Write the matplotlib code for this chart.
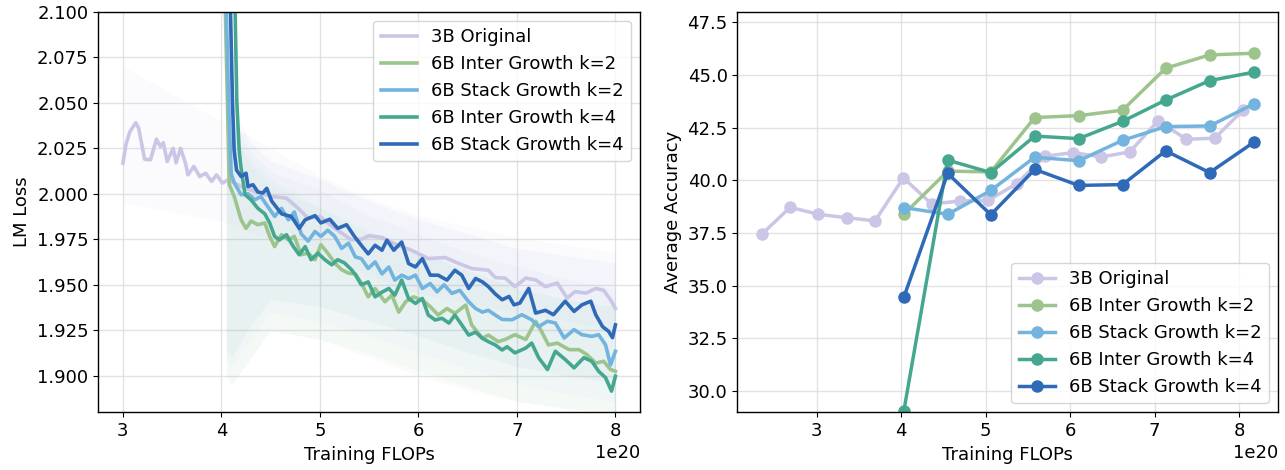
import numpy as np
import matplotlib
matplotlib.use("Agg")
import matplotlib.pyplot as plt

plt.rcParams['font.family'] = ['DejaVu Sans']
plt.rcParams['font.size'] = 13

SCALE = 1e20
labels = ['3B Original', '6B Inter Growth k=2', '6B Stack Growth k=2',
          '6B Inter Growth k=4', '6B Stack Growth k=4']
colors = ['#cbc5e6', '#9cc48c', '#73b4de', '#45a88e', '#2f6ab8']

# ---- left panel: smoothed LM loss, FLOPs in 1e20 ----
loss_3b_x = [3.00, 3.03, 3.07, 3.13, 3.16, 3.22, 3.28, 3.34, 3.38, 3.41, 3.45, 3.51,
             3.54, 3.585, 3.635, 3.66, 3.72, 3.78, 3.84, 3.90, 3.95, 4.01, 4.07, 4.20,
             4.35, 4.52, 4.66, 4.78, 4.88, 5.00, 5.15, 5.32, 5.42, 5.50, 5.63, 5.78,
             5.93, 6.10, 6.27, 6.41, 6.54, 6.71, 6.78, 6.88, 6.98, 7.09, 7.19, 7.29,
             7.41, 7.51, 7.59, 7.70, 7.80, 7.88, 7.95, 8.00]
loss_3b_y = [2.0168, 2.027, 2.034, 2.039, 2.036, 2.019, 2.0187, 2.030, 2.026, 2.028, 2.0177, 2.025,
             2.017, 2.025, 2.0168, 2.0104, 2.015, 2.0095, 2.0113, 2.0068, 2.0104, 2.0059, 2.0077, 2.004,
             2.001, 1.9985, 1.9976, 1.992, 1.9866, 1.9876, 1.981, 1.9747, 1.975, 1.977, 1.976, 1.972,
             1.969, 1.9644, 1.965, 1.9617, 1.959, 1.958, 1.954, 1.9537, 1.949, 1.9537, 1.9527, 1.949,
             1.951, 1.9427, 1.9463, 1.9454, 1.948, 1.947, 1.9418, 1.937]

loss_i2_x = [4.035, 4.04, 4.065, 4.08, 4.13, 4.20, 4.25, 4.30, 4.37, 4.44, 4.49, 4.54,
             4.61, 4.68, 4.74, 4.81, 4.88, 4.95, 5.01, 5.08, 5.15, 5.22, 5.29, 5.36,
             5.42, 5.49, 5.56, 5.66, 5.73, 5.80, 5.87, 5.95, 6.04, 6.12, 6.20, 6.29,
             6.37, 6.48, 6.54, 6.65, 6.71, 6.81, 6.88, 6.98, 7.09, 7.19, 7.24, 7.32,
             7.41, 7.53, 7.63, 7.71, 7.80, 7.88, 7.95, 8.00]
loss_i2_y = [2.30, 2.10, 2.04, 2.005, 1.9985, 1.9857, 1.981, 1.985, 1.983, 1.984, 1.9766, 1.971,
             1.9775, 1.9747, 1.9766, 1.9665, 1.9674, 1.9638, 1.972, 1.9674, 1.962, 1.9583, 1.9564, 1.956,
             1.951, 1.9434, 1.948, 1.9407, 1.9443, 1.935, 1.9407, 1.9434, 1.9416, 1.938, 1.9334, 1.937,
             1.9343, 1.9389, 1.928, 1.9206, 1.9224, 1.9188, 1.920, 1.9226, 1.920, 1.930, 1.9254, 1.917,
             1.918, 1.9144, 1.9144, 1.9117, 1.907, 1.908, 1.9035, 1.9025]

loss_s2_x = [4.045, 4.05, 4.078, 4.10, 4.13, 4.20, 4.27, 4.34, 4.40, 4.47, 4.54, 4.61,
             4.68, 4.74, 4.81, 4.88, 4.95, 5.01, 5.08, 5.15, 5.22, 5.29, 5.36, 5.42,
             5.49, 5.56, 5.63, 5.70, 5.76, 5.83, 5.90, 5.97, 6.04, 6.12, 6.19, 6.26,
             6.34, 6.42, 6.51, 6.58, 6.65, 6.71, 6.78, 6.85, 6.95, 7.05, 7.15, 7.22,
             7.31, 7.39, 7.48, 7.58, 7.66, 7.76, 7.83, 7.90, 7.95, 8.00]
loss_s2_y = [2.30, 2.10, 2.042, 2.011, 2.006, 1.9995, 2.000, 1.9967, 1.9985, 1.993, 1.9876, 1.992,
             1.9857, 1.990, 1.978, 1.974, 1.9793, 1.9766, 1.980, 1.9766, 1.970, 1.9729, 1.9653, 1.9644,
             1.959, 1.9626, 1.956, 1.9598, 1.9526, 1.9553, 1.9535, 1.9553, 1.948, 1.9507, 1.9462, 1.950,
             1.9453, 1.947, 1.9407, 1.937, 1.935, 1.936, 1.9334, 1.9310, 1.9308, 1.9336, 1.9308, 1.927,
             1.930, 1.929, 1.9208, 1.9254, 1.9226, 1.9217, 1.9226, 1.917, 1.906, 1.9135]

loss_i4_x = [4.135, 4.139, 4.156, 4.18, 4.197, 4.24, 4.30, 4.37, 4.44, 4.49, 4.54, 4.59,
             4.66, 4.73, 4.79, 4.85, 4.91, 4.98, 5.05, 5.12, 5.18, 5.25, 5.32, 5.36,
             5.42, 5.49, 5.56, 5.63, 5.70, 5.76, 5.83, 5.90, 5.97, 6.04, 6.10, 6.17,
             6.24, 6.31, 6.37, 6.44, 6.51, 6.58, 6.65, 6.71, 6.78, 6.85, 6.90, 6.98,
             7.09, 7.15, 7.22, 7.31, 7.39, 7.49, 7.58, 7.68, 7.76, 7.83, 7.90, 7.96, 8.00]
loss_i4_y = [2.30, 2.10, 2.051, 2.024, 2.015, 1.9995, 1.9967, 1.992, 1.989, 1.984, 1.9766, 1.9747,
             1.9775, 1.971, 1.9665, 1.971, 1.9638, 1.9674, 1.9638, 1.961, 1.9638, 1.962, 1.9583, 1.9555,
             1.950, 1.9516, 1.9434, 1.946, 1.948, 1.9443, 1.9526, 1.9425, 1.9398, 1.9425, 1.9334, 1.9307,
             1.9316, 1.929, 1.9334, 1.928, 1.9224, 1.924, 1.9206, 1.9188, 1.917, 1.9142, 1.916, 1.9126,
             1.9153, 1.918, 1.910, 1.9035, 1.9135, 1.909, 1.9044, 1.910, 1.908, 1.9025, 1.899, 1.8916, 1.8998]

loss_s4_x = [4.088, 4.092, 4.112, 4.129, 4.153, 4.20, 4.25, 4.27, 4.32, 4.37, 4.42, 4.46,
             4.51, 4.61, 4.71, 4.79, 4.85, 4.95, 5.01, 5.10, 5.18, 5.27, 5.35, 5.42,
             5.49, 5.56, 5.63, 5.68, 5.75, 5.83, 5.90, 5.97, 6.04, 6.12, 6.20, 6.29,
             6.37, 6.44, 6.51, 6.58, 6.65, 6.71, 6.78, 6.85, 6.92, 6.97, 7.03, 7.12,
             7.19, 7.29, 7.37, 7.49, 7.58, 7.66, 7.75, 7.80, 7.87, 7.93, 7.97, 8.00]
loss_s4_y = [2.30, 2.10, 2.051, 2.024, 2.013, 2.0095, 2.0113, 2.004, 2.005, 2.001, 2.0004, 2.003,
             1.996, 1.989, 1.9875, 1.981, 1.9857, 1.988, 1.984, 1.986, 1.981, 1.983, 1.9766, 1.9717,
             1.967, 1.9717, 1.969, 1.9745, 1.969, 1.9735, 1.9617, 1.9598, 1.9644, 1.9553, 1.9553, 1.9526,
             1.958, 1.9553, 1.948, 1.9535, 1.9516, 1.949, 1.945, 1.9418, 1.9436, 1.939, 1.94, 1.948,
             1.9345, 1.936, 1.9336, 1.941, 1.9354, 1.939, 1.941, 1.9336, 1.927, 1.9245, 1.921, 1.928]

# faint spread of the raw (unsmoothed) loss, rough envelope
band_3b_x = [3.0, 3.5, 4.0, 4.5, 5.0, 5.5, 6.0, 6.5, 7.0, 7.5, 8.0]
band_3b_lo = [1.995, 1.990, 1.985, 1.975, 1.965, 1.955, 1.945, 1.940, 1.935, 1.930, 1.925]
band_3b_hi = [2.070, 2.055, 2.040, 2.025, 2.010, 1.998, 1.988, 1.982, 1.976, 1.972, 1.968]
band_6b_x = [4.05, 4.1, 4.3, 4.5, 5.0, 5.5, 6.0, 6.5, 7.0, 7.5, 8.0]
band_6b_lo = [
    [1.900, 1.895, 1.910, 1.925, 1.920, 1.910, 1.900, 1.892, 1.886, 1.882, 1.880],
    [1.910, 1.905, 1.920, 1.935, 1.930, 1.922, 1.913, 1.904, 1.896, 1.890, 1.886],
    [1.900, 1.895, 1.910, 1.925, 1.920, 1.912, 1.903, 1.894, 1.886, 1.882, 1.880],
    [1.915, 1.910, 1.928, 1.942, 1.938, 1.930, 1.922, 1.913, 1.905, 1.900, 1.896],
]
band_6b_hi = [
    [2.030, 2.035, 2.015, 2.005, 1.992, 1.978, 1.968, 1.958, 1.948, 1.942, 1.938],
    [2.035, 2.045, 2.022, 2.012, 2.002, 1.988, 1.978, 1.968, 1.960, 1.953, 1.948],
    [2.030, 2.035, 2.018, 2.008, 1.993, 1.980, 1.968, 1.958, 1.948, 1.942, 1.938],
    [2.040, 2.048, 2.028, 2.018, 2.008, 1.996, 1.986, 1.978, 1.970, 1.966, 1.962],
]

# ---- right panel: average accuracy ----
acc_3b_x = [2.35, 2.685, 3.02, 3.355, 3.69, 4.025, 4.36, 4.695, 5.03, 5.365,
            5.70, 6.035, 6.37, 6.705, 7.04, 7.375, 7.71, 8.045]
acc_3b_y = [37.45, 38.72, 38.39, 38.23, 38.08, 40.12, 38.88, 39.02, 39.05, 39.84,
            41.14, 41.32, 41.11, 41.35, 42.83, 41.95, 42.00, 43.33]
acc_6b_x = [4.03, 4.55, 5.06, 5.58, 6.10, 6.62, 7.13, 7.65, 8.17]
acc_i2_y = [38.39, 40.44, 40.40, 42.98, 43.07, 43.33, 45.32, 45.95, 46.03]
acc_s2_y = [38.71, 38.39, 39.52, 41.10, 40.93, 41.90, 42.55, 42.58, 43.62]
acc_i4_y = [29.05, 40.96, 40.37, 42.10, 41.98, 42.80, 43.81, 44.73, 45.13]
acc_s4_y = [34.45, 40.33, 38.37, 40.52, 39.76, 39.80, 41.40, 40.37, 41.80]


def style_axes(ax):
    ax.grid(True, color='#dddddd', linewidth=1.0, alpha=0.8)
    ax.set_axisbelow(True)
    for sp in ax.spines.values():
        sp.set_linewidth(1.0)
    ax.set_xlabel('Training FLOPs')


fig = plt.figure(figsize=(12.85, 4.7), dpi=100)
ax1 = fig.add_axes([0.0765, 0.1228, 0.4216, 0.8523])
ax2 = fig.add_axes([0.5738, 0.1228, 0.4208, 0.8523])

# left
ax1.fill_between(np.array(band_3b_x) * SCALE, band_3b_lo, band_3b_hi,
                 color=colors[0], alpha=0.06, linewidth=0)
for i in range(4):
    ax1.fill_between(np.array(band_6b_x) * SCALE, band_6b_lo[i], band_6b_hi[i],
                     color=colors[i + 1], alpha=0.035, linewidth=0)
loss_series = [(loss_3b_x, loss_3b_y), (loss_i2_x, loss_i2_y), (loss_s2_x, loss_s2_y),
               (loss_i4_x, loss_i4_y), (loss_s4_x, loss_s4_y)]
for (xs, ys), c, lab in zip(loss_series, colors, labels):
    ax1.plot(np.array(xs) * SCALE, ys, color=c, linewidth=2.6, label=lab)
ax1.set_xlim(2.75 * SCALE, 8.25 * SCALE)
ax1.set_ylim(1.88, 2.10)
ax1.set_ylabel('LM Loss')
style_axes(ax1)
ax1.legend(loc='upper right', fontsize=13, framealpha=0.8)

# right
acc_series = [(acc_3b_x, acc_3b_y), (acc_6b_x, acc_i2_y), (acc_6b_x, acc_s2_y),
              (acc_6b_x, acc_i4_y), (acc_6b_x, acc_s4_y)]
for (xs, ys), c, lab in zip(acc_series, colors, labels):
    ax2.plot(np.array(xs) * SCALE, ys, color=c, linewidth=2.5, marker='o',
             markersize=8, label=lab, clip_on=True)
ax2.set_xlim(2.06 * SCALE, 8.46 * SCALE)
ax2.set_ylim(29.0, 48.0)
ax2.set_yticks([30.0, 32.5, 35.0, 37.5, 40.0, 42.5, 45.0, 47.5])
ax2.set_ylabel('Average Accuracy')
style_axes(ax2)
ax2.legend(loc='lower right', fontsize=13, framealpha=0.8)

fig.savefig('out.png', dpi=100)
